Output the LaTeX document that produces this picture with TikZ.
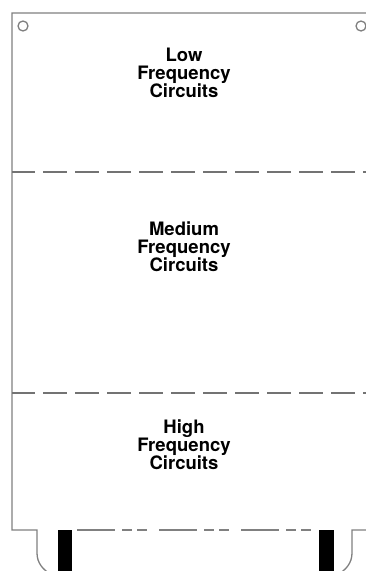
\documentclass[tikz,border=0pt]{standalone}
\usepackage{fontspec}
\setmainfont{TeX Gyre Heros}
\begin{document}
\begin{tikzpicture}[x=1pt,y=-1pt,
  board/.style={draw=black!50,line width=1.3pt},
  zoneline/.style={draw=black!55,line width=1.6pt,dash pattern=on 24pt off 8pt,dash phase=1pt},
  keyline/.style={draw=black!50,line width=1.6pt,dash pattern=on 38pt off 7pt on 10pt off 5pt on 10pt off 12pt},
  hole/.style={draw=black!50,line width=1.3pt},
  finger/.style={fill=black},
  zonetext/.style={font=\bfseries\fontsize{18.5pt}{18pt}\selectfont,align=center,anchor=north,inner sep=0pt}]
\useasboundingbox (0,0) rectangle (366,571);
\fill[white] (0,0) rectangle (366,571);
\begin{scope}
\clip (0,0) rectangle (366,571);
% board outline with the edge-connector notches
\draw[board] (370,13) -- (12,13) -- (12,530) -- (37,530) -- (37,553)
  .. controls (37,563) and (43,570) .. (52,575);
\draw[board] (370,530) -- (352,530) -- (352,553)
  .. controls (352,563) and (346,570) .. (337,575);
% mounting holes
\draw[hole] (23,26) circle (5);
\draw[hole] (361,26) circle (5);
% partition lines between frequency zones
\coordinate (za) at (12,172);
\coordinate (zb) at (370,172);
\coordinate (zc) at (12,393);
\coordinate (zd) at (370,393);
\draw[zoneline] (za) -- (zb);
\draw[zoneline] (zc) -- (zd);
% connector key line
\coordinate (ka) at (77,530);
\coordinate (kb) at (312,530);
\draw[keyline] (ka) -- (kb);
% connector fingers
\fill[finger] (58,530) rectangle (72,575);
\fill[finger] (319,530) rectangle (334,575);
\end{scope}
% zone labels
\node[zonetext] (low) at (184,48) {Low\\Frequency\\Circuits};
\node[zonetext] (med) at (184,222) {Medium\\Frequency\\Circuits};
\node[zonetext] (high) at (184,420) {High\\Frequency\\Circuits};
\end{tikzpicture}
\end{document}
